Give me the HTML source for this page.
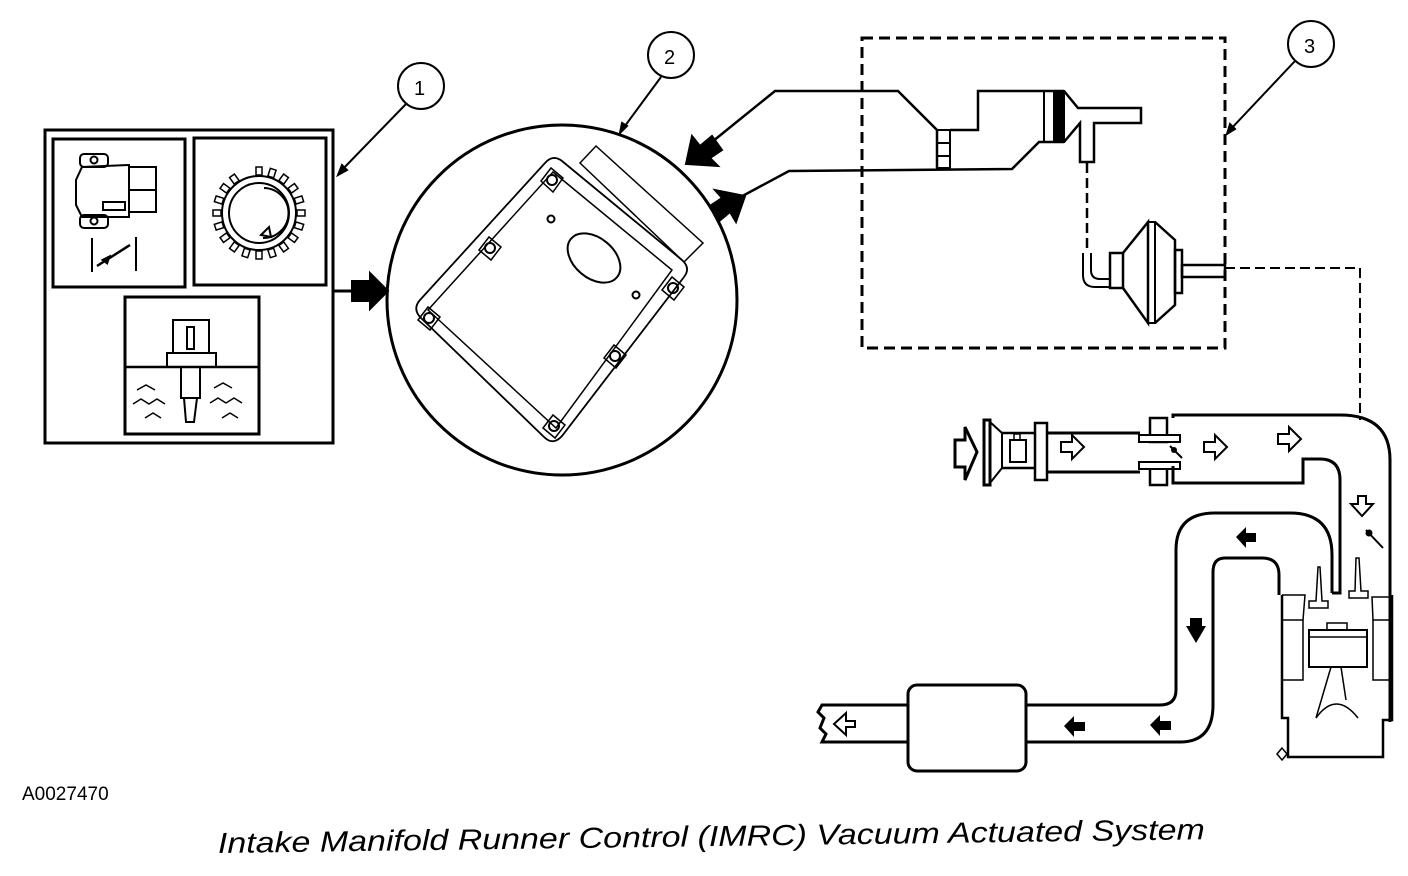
<!DOCTYPE html>
<html><head><meta charset="utf-8"><style>
html,body{margin:0;padding:0;background:#fff;width:1408px;height:876px;overflow:hidden}
svg{display:block}
text{font-family:"Liberation Sans",sans-serif}
</style></head><body>
<svg width="1408" height="876" viewBox="0 0 1408 876" xmlns="http://www.w3.org/2000/svg" fill="none" stroke="#000" stroke-width="2">
<!-- Box 1 -->
<rect x="45" y="130" width="288" height="313" stroke-width="3"/>
<rect x="53" y="139" width="132" height="148" stroke-width="3"/>
<rect x="194" y="138" width="132" height="147" stroke-width="3"/>
<rect x="125" y="297" width="134" height="137" stroke-width="3"/>
<!-- TPS -->
<path d="M82,167 L129,165 L129,217 L82,217 L76,205 L76,180 Z"/>
<rect x="129" y="167" width="27" height="45"/>
<line x1="129" y1="190" x2="156" y2="190"/>
<rect x="103" y="202" width="22" height="8"/>
<rect x="80" y="154" width="28" height="13" rx="4"/>
<circle cx="94" cy="160" r="3.5"/>
<rect x="80" y="215" width="28" height="13" rx="4"/>
<circle cx="94" cy="221" r="3.5"/>
<line x1="92" y1="238" x2="92" y2="272"/><line x1="136" y1="237" x2="136" y2="271"/>
<path d="M97,266 L130,245 M103,260 l6,-3 l-2,6 z" stroke-width="2.5"/>
<!-- crank wheel -->
<g transform="translate(259,213)">
<circle r="37"/><circle r="30"/>
<path d="M5,-25 A25,25 0 0 1 4,25" />
<path d="M2,22 l8,-8 l2,10 z"/>
<g stroke-width="1.5">
<rect x="-3" y="-46" width="6" height="8" transform="rotate(0)"/><rect x="-3" y="-46" width="6" height="8" transform="rotate(18)"/><rect x="-3" y="-46" width="6" height="8" transform="rotate(36)"/><rect x="-3" y="-46" width="6" height="8" transform="rotate(54)"/><rect x="-3" y="-46" width="6" height="8" transform="rotate(72)"/><rect x="-3" y="-46" width="6" height="8" transform="rotate(90)"/><rect x="-3" y="-46" width="6" height="8" transform="rotate(108)"/><rect x="-3" y="-46" width="6" height="8" transform="rotate(126)"/><rect x="-3" y="-46" width="6" height="8" transform="rotate(144)"/><rect x="-3" y="-46" width="6" height="8" transform="rotate(162)"/><rect x="-3" y="-46" width="6" height="8" transform="rotate(180)"/><rect x="-3" y="-46" width="6" height="8" transform="rotate(198)"/><rect x="-3" y="-46" width="6" height="8" transform="rotate(216)"/><rect x="-3" y="-46" width="6" height="8" transform="rotate(234)"/><rect x="-3" y="-46" width="6" height="8" transform="rotate(252)"/><rect x="-3" y="-46" width="6" height="8" transform="rotate(270)"/><rect x="-3" y="-46" width="6" height="8" transform="rotate(288)"/><rect x="-3" y="-46" width="6" height="8" transform="rotate(306)"/><rect x="-3" y="-46" width="6" height="8" transform="rotate(324)"/>
</g></g>
<!-- ECT -->
<line x1="125" y1="367" x2="259" y2="367" stroke-width="2.5"/>
<rect x="173" y="320" width="36" height="33"/>
<rect x="187" y="327" width="7" height="22"/>
<rect x="167" y="353" width="49" height="14"/>
<rect x="181" y="367" width="19" height="31"/>
<path d="M184,398 L186,422 L194,422 L197,398"/>
<path d="M137,390 l9,-5 l9,5 M133,404 l8,-5 l8,5 l8,-5 l8,5 M145,418 l8,-5 l8,5 M214,388 l9,-5 l9,5 M210,403 l8,-5 l8,5 l8,-5 l8,5 M222,418 l8,-5 l8,5" stroke-width="1.5"/>
<!-- arrow box1 -> ECM -->
<line x1="333" y1="291" x2="356" y2="291" stroke-width="3"/>
<path d="M352,281 L370,281 L370,273 L388,291 L370,309 L370,301 L352,301 Z" fill="#000"/>
<!-- callouts -->
<circle cx="421" cy="86" r="23"/><text x="414" y="95" font-size="20" fill="#000" stroke="none">1</text>
<line x1="406" y1="104" x2="340" y2="172"/><path d="M338,175 l4,-10 l5,5 z" fill="#000"/>
<circle cx="671" cy="55" r="23"/><text x="664" y="64" font-size="20" fill="#000" stroke="none">2</text>
<line x1="661" y1="77" x2="622" y2="130"/><path d="M620,133 l2,-10 l5,3 z" fill="#000"/>
<circle cx="1311" cy="44" r="23"/><text x="1304" y="53" font-size="20" fill="#000" stroke="none">3</text>
<line x1="1295" y1="61" x2="1229" y2="131"/><path d="M1227,134 l3,-10 l5,5 z" fill="#000"/>
<!-- ECM circle -->
<ellipse cx="562" cy="300" rx="175" ry="175" stroke-width="3"/>
<path d="M545,163 Q553,154 562,161 L682,260 Q691,268 684,277 L562,436 Q553,446 544,437 L421,318 Q412,309 420,300 Z" stroke-width="1.8"/>
<path d="M553,172 L672,270 L556,428 L428,310 Z" stroke-width="1.5"/>
<g stroke-width="1.5">
<path d="M541,181 L551,168 L563,178 L553,192 Z"/>
<path d="M479,250 L489,237 L501,247 L491,260 Z"/>
<path d="M418,320 L428,307 L440,317 L430,330 Z"/>
<path d="M604,358 L614,345 L626,355 L616,368 Z"/>
<path d="M543,428 L553,415 L565,425 L555,438 Z"/>
<path d="M662,290 L672,277 L684,287 L674,300 Z"/>
</g>
<circle cx="552" cy="180" r="5"/><circle cx="490" cy="248" r="5"/><circle cx="429" cy="318" r="5"/><circle cx="615" cy="356" r="5"/><circle cx="554" cy="426" r="5"/><circle cx="673" cy="288" r="5"/>
<circle cx="551" cy="219" r="3.5"/><circle cx="636" cy="295" r="3.5"/>
<ellipse cx="594" cy="258" rx="30" ry="20" transform="rotate(40 594 258)"/>
<path d="M580,163 L596,146 L703,243 L684,262 Z" stroke-width="1.5"/>
<!-- wires to ECM -->
<path d="M702,150 L775,91 L898,91 L937,130 L937,168" stroke-width="2.5"/>
<path d="M735,200 L789,171 L1012,169 L1039,142 L1064,142" stroke-width="2.5"/>
<path d="M686,164 L692,136 L700,146 L712,136 L722,150 L710,158 L718,166 Z" fill="#000"/>
<path d="M745,196 L736,222 L730,212 L718,222 L710,206 L722,198 L715,190 Z" fill="#000"/>
<!-- dashed box -->
<rect x="862" y="38" width="363" height="310" stroke-width="3" stroke-dasharray="11,6"/>
<!-- solenoid -->
<rect x="937" y="130" width="13" height="38"/>
<line x1="937" y1="143" x2="950" y2="143"/><line x1="937" y1="156" x2="950" y2="156"/>
<path d="M950,130 L978,130 L978,91 L1064,91" stroke-width="2.5"/>
<rect x="1044" y="91" width="20" height="51"/>
<rect x="1054" y="91" width="10" height="51" fill="#000"/>
<path d="M1064,91 L1078,108 L1141,108 L1141,123 L1094,123 L1094,162 L1080,162 L1080,123 L1064,142" stroke-width="2.5"/>
<!-- vacuum dashed to actuator -->
<path d="M1087,163 L1087,253" stroke-width="2.5" stroke-dasharray="10,5"/>
<path d="M1083,253 L1083,275 Q1083,287 1095,287 L1110,287 M1091,253 L1091,270 Q1091,279 1100,279 L1110,279" stroke-width="2"/>
<!-- actuator -->
<rect x="1110" y="253" width="13" height="35" stroke-width="2.5"/>
<path d="M1123,253 L1148,222 L1148,323 L1123,288" stroke-width="2.5"/>
<rect x="1148" y="222" width="7" height="101" stroke-width="2"/>
<path d="M1155,222 L1175,240 L1175,305 L1155,323" stroke-width="2.5"/>
<rect x="1175" y="250" width="7" height="43" stroke-width="2.5"/>
<rect x="1182" y="265" width="43" height="12" stroke-width="2.5"/>
<path d="M1225,268 L1360,268 L1360,420" stroke-width="2" stroke-dasharray="10,5"/>
<!-- intake -->
<path d="M955,440 L965,440 L965,427 L977,452 L965,480 L965,467 L955,467 Z" stroke-width="3"/>
<path d="M984,420 L990,420 L990,485 L984,485 Z" stroke-width="3"/>
<path d="M990,422 L1002,433 L1002,468 L990,483" stroke-width="2"/>
<rect x="1010" y="440" width="16" height="22" stroke-width="2"/>
<rect x="1014" y="434" width="6" height="6" stroke-width="1.5"/>
<rect x="1035" y="423" width="12" height="57" stroke-width="2.5"/>
<line x1="1002" y1="433" x2="1035" y2="433" stroke-width="2.5"/><line x1="1002" y1="468" x2="1035" y2="468" stroke-width="2.5"/>
<line x1="1047" y1="433" x2="1140" y2="433" stroke-width="3"/><line x1="1047" y1="472" x2="1140" y2="472" stroke-width="3"/>
<rect x="1150" y="418" width="17" height="24" stroke-width="2.5"/><rect x="1150" y="466" width="17" height="19" stroke-width="2.5"/>
<rect x="1139" y="435" width="41" height="7" stroke-width="2" fill="#fff"/><rect x="1139" y="462" width="41" height="7" stroke-width="2" fill="#fff"/>
<line x1="1170" y1="446" x2="1182" y2="458" stroke-width="2"/><circle cx="1174" cy="450" r="2" fill="#000"/>
<path d="M1173,418 L1173,415 L1340,415 Q1390,415 1390,460 L1390,722" stroke-width="3"/>
<path d="M1173,466 L1173,483 L1303,483 L1303,459 L1320,459 Q1340,459 1340,480 L1340,593 L1332,593 L1332,593" stroke-width="3"/>
<!-- hollow arrows intake -->
<g stroke-width="2">
<path d="M1061,442 l11,0 l0,-7 l12,12 l-12,12 l0,-7 l-11,0 z"/>
<path d="M1204,442 l11,0 l0,-7 l12,12 l-12,12 l0,-7 l-11,0 z"/>
<path d="M1278,434 l11,0 l0,-7 l12,12 l-12,12 l0,-7 l-11,0 z"/>
<path d="M1358,496 l8,0 l0,8 l7,0 l-11,12 l-11,-12 l7,0 z"/>
<path d="M846,721 l0,-8 l-12,11 l12,11 l0,-8 l9,0 l0,-6 z"/>
</g>
<line x1="1366" y1="530" x2="1383" y2="548" stroke-width="2"/><circle cx="1369" cy="533" r="2.5" fill="#000"/>
<!-- exhaust pipe -->
<path d="M1332,593 L1332,555 Q1332,513 1290,513 L1215,513 Q1176,513 1176,550 L1176,690 Q1176,705 1160,705 L1026,705" stroke-width="3"/>
<path d="M1279,595 L1279,575 Q1279,558 1262,558 L1225,558 Q1213,558 1213,572 L1213,705 Q1213,742 1180,742 L1026,742" stroke-width="3"/>
<rect x="908" y="685" width="118" height="86" rx="9" stroke-width="3"/>
<path d="M908,705 L822,705 L818,712 L824,718 L820,728 L826,734 L822,742 L908,742" stroke-width="3"/>
<!-- filled arrows exhaust -->
<g fill="#000" stroke="none">
<path d="M1236,537 l10,-10 l0,6 l10,0 l0,9 l-10,0 l0,6 z"/>
<path d="M1186,626 l20,0 l-10,17 z M1190,618 l12,0 l0,9 l-12,0 z"/>
<path d="M1150,725 l10,-10 l0,6 l11,0 l0,9 l-11,0 l0,6 z"/>
<path d="M1064,726 l10,-10 l0,6 l11,0 l0,9 l-11,0 l0,6 z"/>
</g>
<!-- engine -->
<path d="M1282,595 L1282,718 L1288,718 L1288,757 L1383,757 L1383,720 L1392,720 L1392,595" stroke-width="2.5"/>
<path d="M1282,595 L1305,595 L1303,620 L1282,620 M1392,597 L1372,597 L1373,620 L1392,620" stroke-width="1.5"/>
<path d="M1282,680 L1303,680 L1303,620 M1392,680 L1373,680 L1373,620" stroke-width="1.5"/>
<rect x="1309" y="630" width="58" height="37" stroke-width="2"/>
<line x1="1309" y1="637" x2="1367" y2="637" stroke-width="1.5"/>
<rect x="1327" y="623" width="20" height="7" stroke-width="1.5"/>
<path d="M1318,567 L1320,567 L1322,601 L1328,601 L1328,608 L1309,608 L1309,601 L1316,601 Z" stroke-width="1.5"/>
<path d="M1356,558 L1359,558 L1361,591 L1368,591 L1368,598 L1349,598 L1349,591 L1355,591 Z" stroke-width="1.5"/>
<path d="M1331,667 L1316,718 M1341,667 L1346,700" stroke-width="1.5"/>
<path d="M1316,718 Q1336,690 1358,718" stroke-width="1.5"/>
<path d="M1282,748 l-5,6 l5,6 l5,-6 z" stroke-width="1.5"/>
<!-- labels -->
<text x="22" y="800" font-size="19" fill="#000" stroke="none">A0027470</text>
<text x="218" y="853" font-size="29" font-style="italic" fill="#000" stroke="none" textLength="987" lengthAdjust="spacingAndGlyphs" transform="rotate(-0.8 218 853)">Intake Manifold Runner Control (IMRC) Vacuum Actuated System</text>
</svg>
</body></html>
